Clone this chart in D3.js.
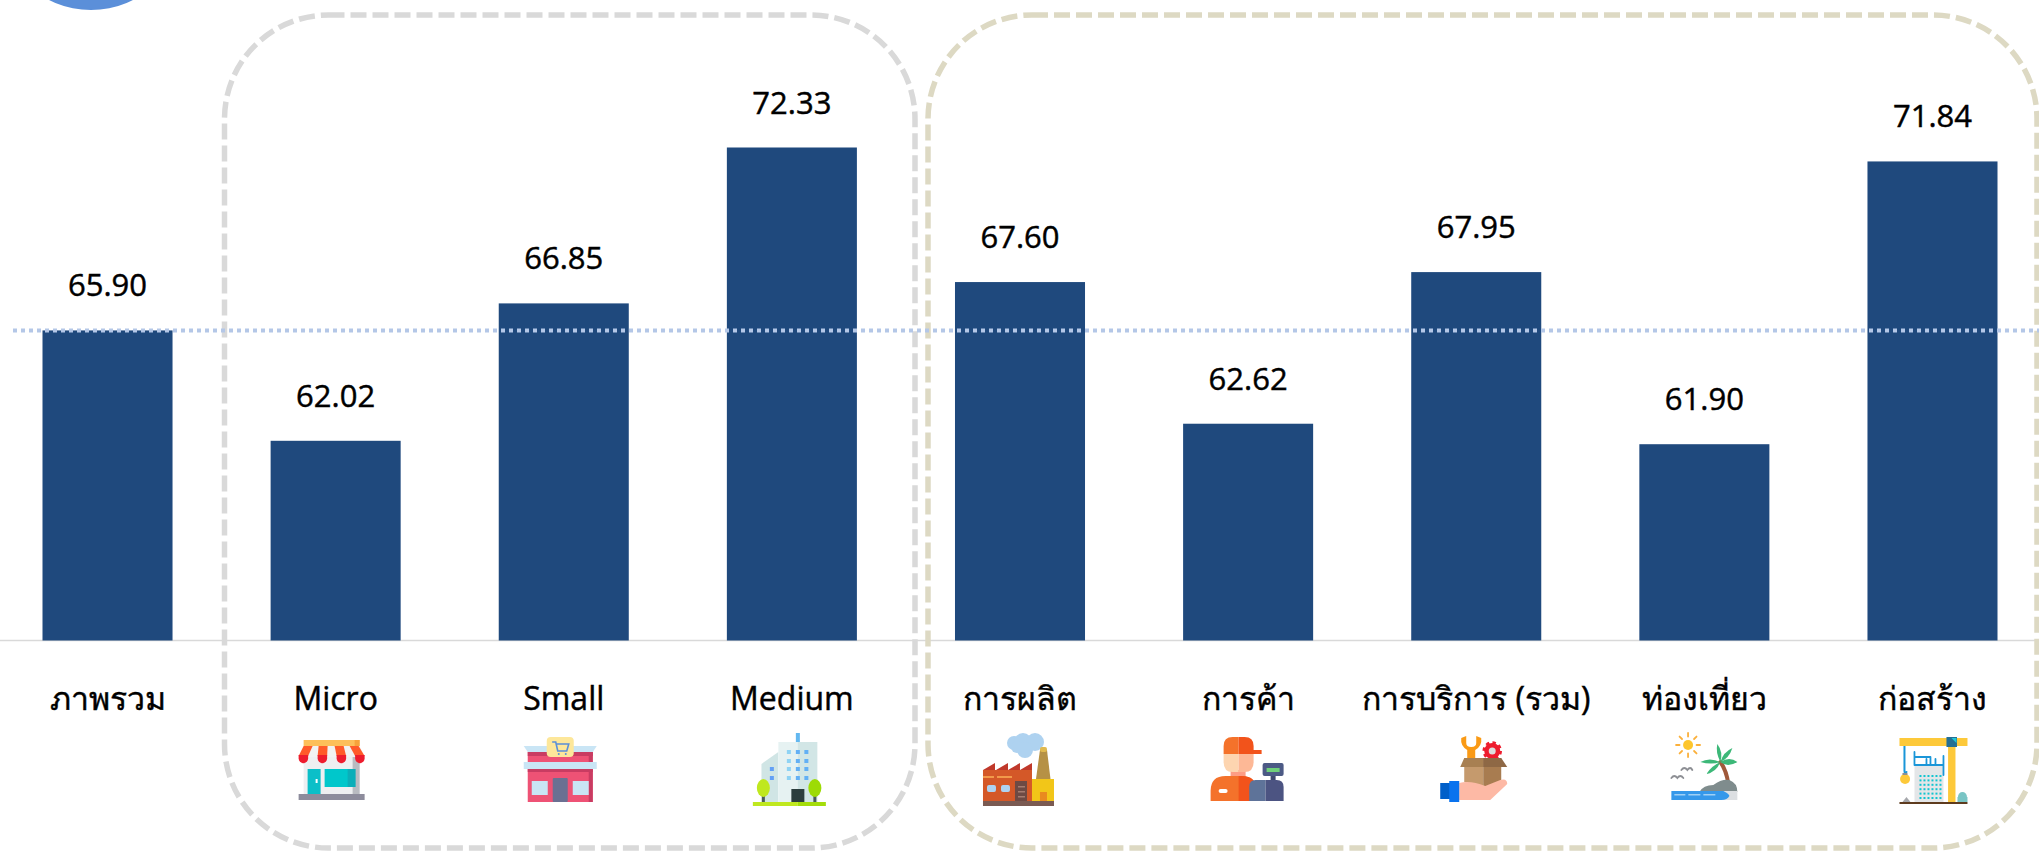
<!DOCTYPE html>
<html>
<head>
<meta charset="utf-8">
<script src="https://cdn.jsdelivr.net/npm/d3@7"></script>
<style>
  html, body { margin: 0; padding: 0; background: #fff; overflow: hidden; }
  text { font-family: "Open Sans", "Noto Sans", sans-serif; fill: #000; stroke: #000; stroke-width: 0.45px; }
</style>
</head>
<body>
<div id="chart"></div>
<script>
var categories = ["ภาพรวม", "Micro", "Small", "Medium", "การผลิต", "การค้า", "การบริการ (รวม)", "ท่องเที่ยว", "ก่อสร้าง"];
var values = [65.90, 62.02, 66.85, 72.33, 67.60, 62.62, 67.95, 61.90, 71.84];
var average = 65.90;
var axisBase = 55;

var width = 2039, height = 851;
var svg = d3.select("#chart").append("svg").attr("width", width).attr("height", height);

var x = d3.scaleBand().domain(categories).range([42.5, 1997.5]).paddingInner(0.43);
var y = d3.scaleLinear().domain([axisBase, 72.33]).range([640.5, 147.5]);

// blue circle cut off by the top edge
svg.append("circle").attr("cx", 91).attr("cy", -83).attr("r", 93).attr("fill", "#5b8fd9");

// baseline
svg.append("line").attr("x1", 0).attr("x2", width).attr("y1", y(axisBase)).attr("y2", y(axisBase))
  .attr("stroke", "#d9d9d9").attr("stroke-width", 1.5);

// bars
svg.selectAll(".bar").data(values).enter().append("rect")
  .attr("class", "bar")
  .attr("x", function(d, i) { return x(categories[i]); })
  .attr("y", function(d) { return y(d); })
  .attr("width", x.bandwidth())
  .attr("height", function(d) { return y(axisBase) - y(d); })
  .attr("fill", "#1f497d");

// group frames
function frame(x0, x1, color) {
  svg.append("rect").attr("x", x0).attr("y", 15).attr("width", x1 - x0).attr("height", 833)
    .attr("rx", 104).attr("ry", 104)
    .attr("fill", "none").attr("stroke", color).attr("stroke-width", 5.5)
    .attr("stroke-dasharray", "16 6");
}
frame(224.5, 915, "#d9d9d9");
frame(928, 2037, "#ddd9c3");

// average line
svg.append("line").attr("x1", 13).attr("x2", width).attr("y1", y(average)).attr("y2", y(average))
  .attr("stroke", "#b4c7e7").attr("stroke-width", 4).attr("stroke-dasharray", "4 4");

// value labels
svg.selectAll(".val").data(values).enter().append("text")
  .attr("class", "val")
  .attr("x", function(d, i) { return x(categories[i]) + x.bandwidth() / 2; })
  .attr("y", function(d) { return y(d) - 34; })
  .attr("text-anchor", "middle")
  .attr("font-size", 31)
  .text(function(d) { return d.toFixed(2); });

// category labels
svg.selectAll(".cat").data(categories).enter().append("text")
  .attr("class", "cat")
  .attr("x", function(d) { return x(d) + x.bandwidth() / 2; })
  .attr("y", 710)
  .attr("text-anchor", "middle")
  .attr("font-size", 32)
  .text(function(d) { return d; });

// little icon helpers
function R(g, a, b, w, h, c, rx) { g.append("rect").attr("x", a).attr("y", b).attr("width", w).attr("height", h).attr("fill", c).attr("rx", rx || 0); }
function P(g, d, c) { g.append("path").attr("d", d).attr("fill", c); }
function C(g, a, b, r, c, r2) { g.append("ellipse").attr("cx", a).attr("cy", b).attr("rx", r).attr("ry", r2 || r).attr("fill", c); }
function S(g, d, c, w) { g.append("path").attr("d", d).attr("fill", "none").attr("stroke", c).attr("stroke-width", w).attr("stroke-linecap", "round"); }

function iconMicro(g) {
  R(g, 5, 13, 56, 41, "#eeeff1");
  R(g, 54, 13, 7, 41, "#b9bbc1");
  R(g, 9, 29, 13, 25, "#0bbfc8");
  R(g, 26, 29, 30, 18, "#00c7cb");
  R(g, 49, 29, 8, 18, "#0baeb9");
  R(g, 17, 39, 2, 4, "#fff");
  R(g, 0, 54, 66, 6, "#8d8c9c");
  R(g, 5, 0, 56, 6, "#fdbf5a");
  R(g, 56, 0, 5, 6, "#f7a23b");
  P(g, "M5 6h56l5 11H0z", "#f2f2f2");
  [[0, 5], [19, 20], [38, 36], [56.5, 51]].forEach(function(s) {
    P(g, "M" + s[1] + " 6h9L" + (s[0] + 9.5) + " 16H" + s[0] + "z", "#ff5a2a");
    P(g, "M" + s[0] + " 15h9.5v3.5a4.75 4.75 0 0 1-9.5 0z", "#ee1c2e");
  });
}
function iconSmall(g) {
  R(g, 4, 15, 65, 50, "#ee5275");
  R(g, 4, 15, 65, 4, "#c93c62");
  R(g, 65, 15, 4, 50, "#c93c62");
  R(g, 4, 32, 65, 3, "#c93c62");
  P(g, "M0 9h73l-4 6H4z", "#c9e5f5");
  R(g, 0, 25, 73, 7, "#c9e5f5");
  R(g, 29, 41, 15, 24, "#6b7092", 1);
  R(g, 8, 44, 16, 14, "#c9e5f5");
  R(g, 49, 44, 16, 14, "#c9e5f5");
  R(g, 23, 0, 27, 20, "#fde79a", 4);
  S(g, "M29 5h3l2 9h9l2-7H33", "#5a8fd8", 1.6);
  C(g, 35, 17, 1, "#5a8fd8"); C(g, 42, 17, 1, "#5a8fd8");
}
function iconMedium(g) {
  R(g, 43, 0, 4, 9, "#63b8f0");
  P(g, "M8.6 31L25.5 19V69H8.6z", "#d0e5e5");
  R(g, 25.5, 9, 20, 60, "#e6f2f2");
  R(g, 45, 9, 19.5, 60, "#d2e6e6");
  [36, 45, 53.5].forEach(function(a) {
    [19, 28, 36, 45].forEach(function(b) { R(g, a - 2, b - 2, 4, 4, a < 40 ? "#8fd3f4" : "#63b0f5"); });
  });
  R(g, 17, 34, 4, 4, "#63a0f5"); R(g, 17, 43, 4, 4, "#63a0f5");
  R(g, 38.5, 56, 13, 13, "#2c3e3e");
  R(g, 9, 60, 3, 9, "#4a5a5a"); R(g, 60.5, 60, 3, 9, "#4a5a5a");
  C(g, 10.5, 55, 6.5, "#bfe81f", 9); C(g, 62, 55, 6.5, "#9ddb05", 9);
  R(g, 0, 69, 45, 4, "#bfe81f"); R(g, 45, 69, 28, 4, "#a4dd0a");
}
function iconFactory(g) {
  C(g, 31, 10, 7, "#aed2f0"); C(g, 40, 9, 9, "#aed2f0"); C(g, 52, 9, 9, "#aed2f0");
  C(g, 42, 17, 8, "#aed2f0"); C(g, 34, 14, 6, "#aed2f0");
  P(g, "M57 17h7l3.5 29H53z", "#b69145");
  R(g, 57, 14, 7, 5, "#e0b94f", 2);
  [0, 13, 25, 37].forEach(function(a) { P(g, "M" + a + " 37L" + (a + 12) + " 30V37z", "#c0392b"); });
  R(g, 0, 37, 49, 31, "#d45828");
  R(g, 0, 43, 11, 2, "#f29a4a"); R(g, 14, 43, 15, 2, "#f29a4a");
  R(g, 4, 52, 9, 7, "#aed2f0", 2); R(g, 18, 52, 9, 7, "#aed2f0", 2);
  R(g, 32, 48, 12, 20, "#6d4a44");
  R(g, 35, 53, 7, 1.5, "#a47c70"); R(g, 35, 58, 7, 1.5, "#a47c70"); R(g, 35, 63, 7, 1.5, "#a47c70");
  R(g, 49, 46, 22, 22, "#f2c618");
  R(g, 57, 59, 7, 9, "#e98a1f");
  R(g, 0, 68, 71, 5, "#7a5a52");
}
function iconTrade(g) {
  R(g, 20, 33, 15, 12, "#fd9d85");
  P(g, "M0 64V54Q0 39 15 39H31Q46 39 46 54V64z", "#f4722b");
  P(g, "M28 39H31Q46 39 46 54V64H28z", "#f2531b");
  R(g, 8, 52, 9, 4, "#fff", 2);
  P(g, "M13 17H28V35H22Q13 35 13 25z", "#fdd5b0");
  P(g, "M28 17H43V25Q43 35 34 35H28z", "#fdb896");
  P(g, "M13 17V9Q13 0 22 0H28V17z", "#f4722b");
  P(g, "M28 0H34Q43 0 43 9V13H51V17H28z", "#f2531b");
  R(g, 60, 39, 5, 5, "#3f4a70");
  P(g, "M38.6 64V50Q38.6 43 45 43H55V64z", "#5e7399");
  P(g, "M55 43H66Q73 43 73 50V64H55z", "#4c5482");
  R(g, 52, 26, 21, 13, "#4c5a85", 2);
  R(g, 56, 31, 13, 4, "#6fd07a");
}
function iconService(g) {
  P(g, "M27 22V14Q20 10 21 2L26 0V7Q26 11 31 11Q36 11 36 7V0L41 2Q42 10 35 14V22z", "#fa9a15");
  g.append("circle").attr("cx", 52).attr("cy", 15).attr("r", 8).attr("fill", "#ee1c2e")
    .attr("stroke", "#ee1c2e").attr("stroke-width", 3.5).attr("stroke-dasharray", "3.2 3.08");
  C(g, 52, 15, 3.5, "#dddddd");
  P(g, "M24 22H43V52L24 46z", "#c59a6d");
  P(g, "M43 22H61V46L43 52z", "#a87c50");
  P(g, "M24 22H43V31H20z", "#a88052");
  P(g, "M43 22H61L67 31H43z", "#8e6845");
  P(g, "M19 47Q30 44 45 50L60 44Q67 42 67 48L50 64H19z", "#fdb9a5");
  R(g, 0, 47, 10, 16, "#005fc9");
  R(g, 9, 45, 10, 21, "#0a73ee");
}
function iconTourism(g) {
  C(g, 16.7, 13, 5, "#fdc62e");
  d3.range(8).forEach(function(k) {
    var a = k * Math.PI / 4;
    S(g, "M" + (16.7 + 8.5 * Math.cos(a)) + " " + (13 + 8.5 * Math.sin(a)) + "L" + (16.7 + 12 * Math.cos(a)) + " " + (13 + 12 * Math.sin(a)), "#fbb03b", 1.8);
  });
  S(g, "M49 30Q55 38 57 52", "#a0593a", 4);
  P(g, "M49 30Q44 20 46 12Q52 20 49 30z", "#3cb878");
  P(g, "M49 30Q52 20 61 16Q58 26 49 30z", "#3cb878");
  P(g, "M49 30Q38 25 29 30Q40 33 49 30z", "#3cb878");
  P(g, "M49 30Q58 24 66 30Q56 36 49 30z", "#3cb878");
  P(g, "M49 30Q40 34 35 42Q45 40 49 30z", "#3cb878");
  S(g, "M10 38Q13 34 16 38Q19 34 21 38", "#8d8f94", 1.8);
  S(g, "M0 46Q3 42 6 46Q9 42 12 46", "#8d8f94", 1.8);
  P(g, "M28 60Q32 53 42 53Q50 47 58 48Q66 51 66 60z", "#7f8c8d");
  R(g, 30, 59, 36, 9, "#dcdfe2");
  P(g, "M0 59H52Q58 62 58 64Q56 68 50 68H0z", "#3598ea");
  R(g, 3, 62, 11, 1.5, "#9fd0f5"); R(g, 17, 62, 12, 1.5, "#9fd0f5"); R(g, 32, 62, 12, 1.5, "#9fd0f5");
}
function iconConstruction(g) {
  R(g, 15, 28, 29, 37, "#e4e6e8");
  d3.range(6).forEach(function(a) {
    d3.range(6).forEach(function(b) { R(g, 20 + a * 4, 38 + b * 4.4, 2, 2, "#12c5d0"); });
  });
  S(g, "M15 15V28M15 20H31M15 28H44M31 20V28M27 22V28M36 22V28M44 19V38", "#1a96d8", 1.8);
  S(g, "M5 9V34Q5 37 7 35", "#1a96d8", 2);
  C(g, 5.6, 42, 5, "#fdc93a");
  R(g, 3, 36, 5, 2, "#8d8f94");
  R(g, 0, 1, 68, 8, "#fdc93a");
  R(g, 48.6, 9, 7.4, 56, "#fdc93a");
  R(g, 47, 0, 10.5, 10, "#246f94");
  P(g, "M52 1h5v5z", "#22c7d6");
  P(g, "M3 65L7 60 11 65z", "#a5a7ab");
  C(g, 63, 60, 4.5, "#79c5c5", 5);
  R(g, 58, 60, 10, 5, "#79c5c5");
  R(g, 0, 65, 68, 2, "#5e3b1e");
}

var icons = [null, [iconMicro, 28, 740], [iconSmall, 25, 737], [iconMedium, 26, 733], [iconFactory, 28, 733],
  [iconTrade, 27.5, 737], [iconService, 29, 736], [iconTourism, 32, 732], [iconConstruction, 32, 737]];
icons.forEach(function(ic, i) {
  if (!ic) return;
  var g = svg.append("g").attr("transform", "translate(" + (x(categories[i]) + ic[1]) + "," + ic[2] + ")");
  ic[0](g);
});
</script>
</body>
</html>
